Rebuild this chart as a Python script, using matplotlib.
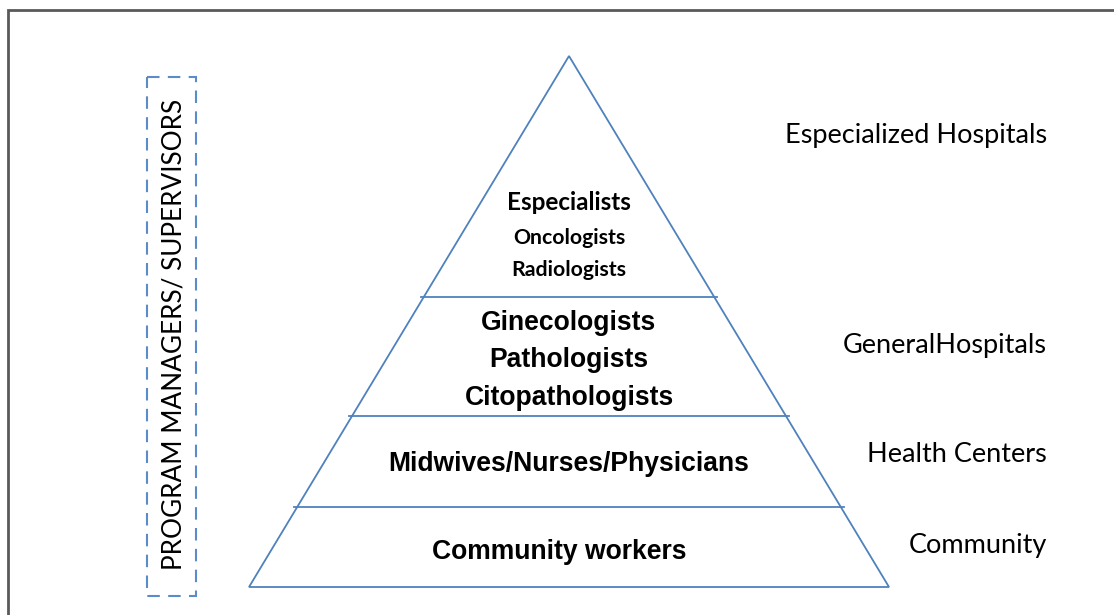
import matplotlib
matplotlib.use('Agg')
import matplotlib.pyplot as plt
from matplotlib.patches import Polygon, Rectangle

# 金字塔各层（从上到下）
tier_labels = [
    ['Especialists', 'Oncologists', 'Radiologists'],
    ['Ginecologists', 'Pathologists', 'Citopathologists'],
    ['Midwives/Nurses/Physicians'],
    ['Community workers'],
]
level_labels = ['Especialized Hospitals', 'GeneralHospitals', 'Health Centers', 'Community']
side_label = 'PROGRAM MANAGERS/ SUPERVISORS'

# 层分界（占金字塔高度的比例）
tier_breaks = [0.454, 0.678, 0.849]

# 几何参数（像素坐标）
apex = (569, 56)
base_y = 587
base_half = 320
blue = '#4F81BD'

fig = plt.figure(figsize=(11.14, 6.15), dpi=100)
ax = fig.add_axes([0, 0, 1, 1])
ax.set_xlim(0, 1114)
ax.set_ylim(615, 0)
ax.axis('off')

# 外框（只有上边和左边可见）
ax.plot([8, 8, 1114], [615, 10, 10], color='#595959', lw=2, solid_joinstyle='miter')

# 三角形
tri = Polygon([(apex[0] - base_half, base_y), apex, (apex[0] + base_half, base_y)],
              closed=True, fill=False, edgecolor=blue, lw=1.3)
ax.add_patch(tri)

height = base_y - apex[1]
for f in tier_breaks:
    y = apex[1] + f * height
    half = base_half * f
    ax.plot([apex[0] - half - 3, apex[0] + half + 3], [y, y], color=blue, lw=1.3)

# 层内文字
calibri = 'Lato'
arial = 'Liberation Sans'
ax.text(569, 202, tier_labels[0][0], ha='center', va='center', fontsize=17.5,
        fontweight='bold', family=calibri)
ax.text(569, 238, tier_labels[0][1], ha='center', va='center', fontsize=15.3,
        fontweight='bold', family=calibri)
ax.text(569, 270, tier_labels[0][2], ha='center', va='center', fontsize=15.3,
        fontweight='bold', family=calibri)
for i, y in enumerate([323, 360, 398]):
    ax.text(569, y, tier_labels[1][i], ha='center', va='center', fontsize=19.1,
            fontweight='bold', family=arial)
ax.text(569, 464, tier_labels[2][0], ha='center', va='center', fontsize=19.1,
        fontweight='bold', family=arial)
ax.text(559, 552, tier_labels[3][0], ha='center', va='center', fontsize=19.1,
        fontweight='bold', family=arial)

# 右侧层级名称
for lab, y in zip(level_labels, [135, 345, 455, 546]):
    ax.text(1047, y, lab, ha='right', va='center', fontsize=19.5, family=calibri)

# 左侧虚线框与竖排文字
ax.add_patch(Rectangle((147, 77), 49, 519, fill=False, edgecolor='#5B8BC9',
                       lw=1.5, linestyle=(0, (6, 4))))
ax.text(174, 334, side_label, ha='center', va='center', rotation=90,
        fontsize=18.8, family=calibri)

plt.savefig('out.png', dpi=100)
